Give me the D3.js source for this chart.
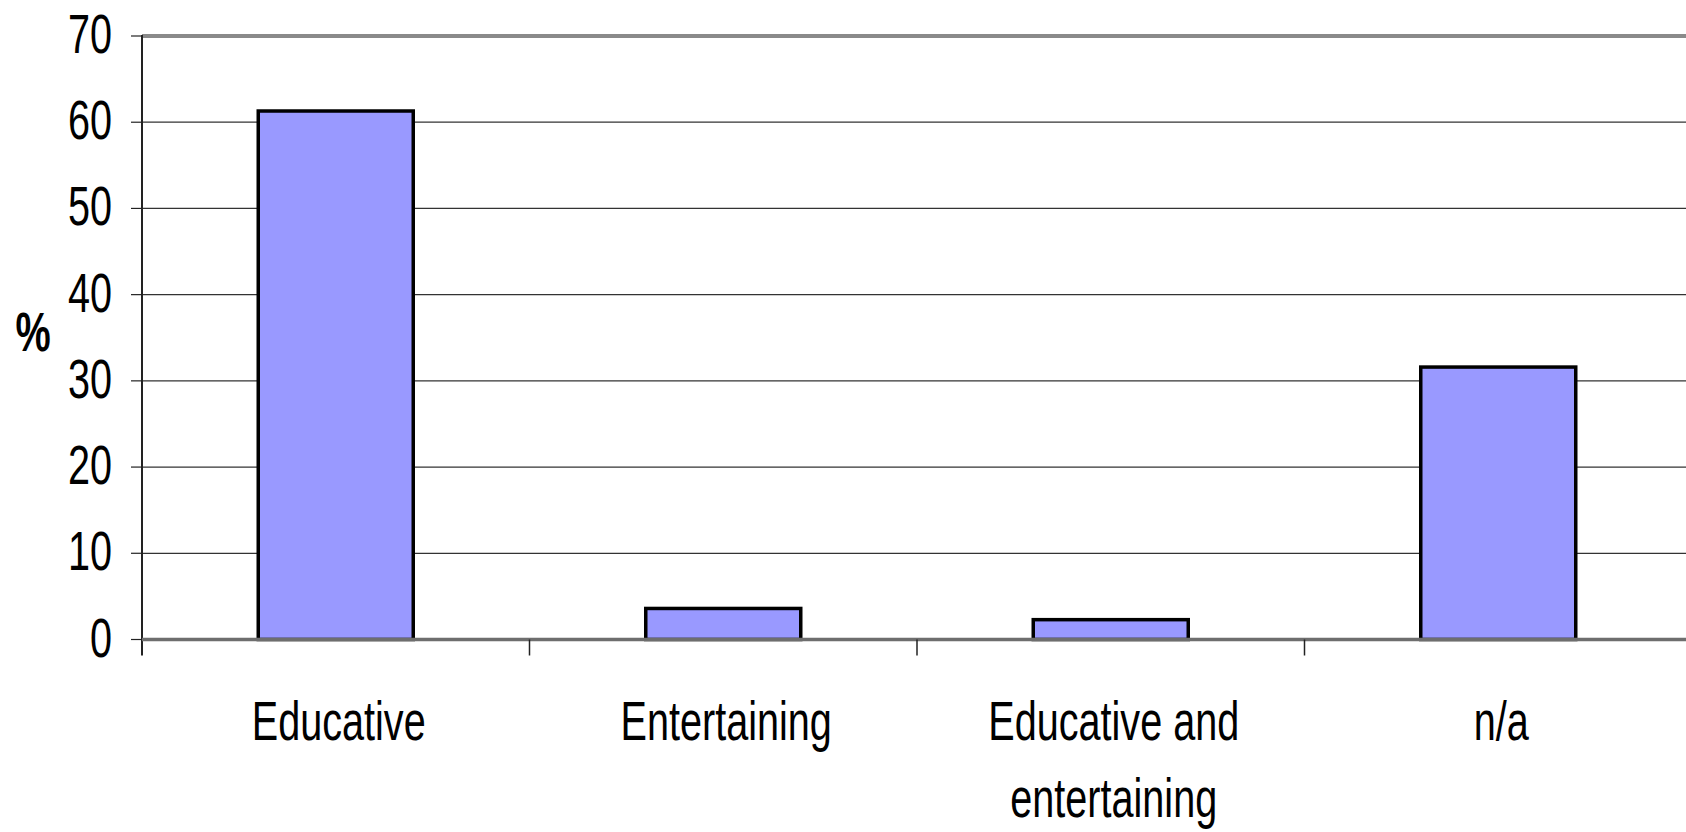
<!DOCTYPE html>
<html>
<head>
<meta charset="utf-8">
<script src="https://cdn.jsdelivr.net/npm/d3@7"></script>
<style>
  html, body { margin: 0; padding: 0; background: #fff; }
  svg { display: block; }
  text { font-family: "Liberation Sans", Arial, sans-serif; fill: #000; }
</style>
</head>
<body>
<svg id="chart" width="1686" height="832"></svg>
<script>
// Chart data
const categories = ["Educative", "Entertaining", "Educative and entertaining", "n/a"];
const categoryLines = [["Educative"], ["Entertaining"], ["Educative and", "entertaining"], ["n/a"]];
const values = [61.3, 3.6, 2.3, 31.6];
const yTicks = [0, 10, 20, 30, 40, 50, 60, 70];
const yLabel = "%";

const svg = d3.select("#chart");
const W = 1686, H = 832;

// Plot area (the right edge runs past the visible window)
const plotLeft = 142, plotTop = 36, plotBottom = 639.5;
const step = 387.5;
const plotRight = plotLeft + step * categories.length;

const x = d3.scaleBand()
  .domain(categories)
  .range([plotLeft, plotRight])
  .paddingInner(0.6)
  .paddingOuter(0.3);

const y = d3.scaleLinear().domain([0, 70]).range([plotBottom, plotTop]);

const condense = 0.72;
const fontSize = 55;

// Horizontal gridlines
svg.append("g")
  .selectAll("line")
  .data(yTicks.filter(t => t > 0 && t < 70))
  .join("line")
  .attr("x1", plotLeft).attr("x2", W)
  .attr("y1", d => y(d)).attr("y2", d => y(d))
  .attr("stroke", "#333").attr("stroke-width", 1.2);

// Top border of plot area
svg.append("line")
  .attr("x1", plotLeft).attr("x2", W)
  .attr("y1", y(70)).attr("y2", y(70))
  .attr("stroke", "#8a8a8a").attr("stroke-width", 4);

// Bars
svg.append("g")
  .selectAll("rect")
  .data(categories)
  .join("rect")
  .attr("x", d => x(d))
  .attr("width", x.bandwidth())
  .attr("y", (d, i) => y(values[i]))
  .attr("height", (d, i) => y(0) - y(values[i]))
  .attr("fill", "#9999ff")
  .attr("stroke", "#000")
  .attr("stroke-width", 3.5);

// Y axis line and ticks
svg.append("line")
  .attr("x1", plotLeft).attr("x2", plotLeft)
  .attr("y1", plotTop - 1).attr("y2", plotBottom + 16)
  .attr("stroke", "#222").attr("stroke-width", 2);

svg.append("g")
  .selectAll("line")
  .data(yTicks)
  .join("line")
  .attr("x1", plotLeft - 11).attr("x2", plotLeft)
  .attr("y1", d => y(d)).attr("y2", d => y(d))
  .attr("stroke", "#222").attr("stroke-width", 1.2);

// Y tick labels
svg.append("g")
  .selectAll("text")
  .data(yTicks)
  .join("text")
  .attr("transform", d => `translate(112,${y(d) + 17}) scale(${condense},1)`)
  .attr("text-anchor", "end")
  .attr("font-size", fontSize)
  .text(d => d);

// X axis line
svg.append("line")
  .attr("x1", plotLeft).attr("x2", W)
  .attr("y1", plotBottom).attr("y2", plotBottom)
  .attr("stroke", "#6e6e6e").attr("stroke-width", 3.5);

// Category boundary ticks
const boundaries = d3.range(categories.length + 1).map(i => plotLeft + i * step);
svg.append("g")
  .selectAll("line")
  .data(boundaries.filter(b => b > plotLeft && b < W))
  .join("line")
  .attr("x1", d => d).attr("x2", d => d)
  .attr("y1", plotBottom).attr("y2", plotBottom + 16)
  .attr("stroke", "#222").attr("stroke-width", 1.5);

// Category labels
const labelGroup = svg.append("g");
categories.forEach((c, i) => {
  const cx = x(c) + x.bandwidth() / 2 + 3;
  categoryLines[i].forEach((line, j) => {
    labelGroup.append("text")
      .attr("transform", `translate(${cx},${740 + j * 77}) scale(${condense},1)`)
      .attr("text-anchor", "middle")
      .attr("font-size", fontSize)
      .text(line);
  });
});

// Y axis title
svg.append("text")
  .attr("transform", `translate(33,351) scale(${condense},1)`)
  .attr("text-anchor", "middle")
  .attr("font-size", fontSize)
  .attr("font-weight", "bold")
  .text(yLabel);
</script>
</body>
</html>
